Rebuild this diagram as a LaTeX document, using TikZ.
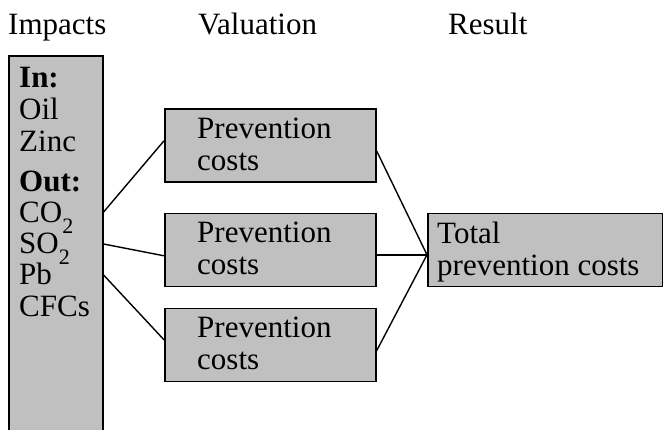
\documentclass[tikz,border=0pt]{standalone}
\usepackage{fontspec}
\setmainfont{Liberation Serif}
\usetikzlibrary{calc}
\definecolor{boxgray}{HTML}{C0C0C0}
\newcommand{\lowtwo}{\raisebox{-11pt}{\fontsize{22}{22}\selectfont 2}}
\tikzset{
  box/.style={draw=black, line width=1.6pt, fill=boxgray, rectangle, inner sep=0pt, anchor=north west},
  txt/.style={anchor=base west, inner sep=0pt, font=\fontsize{31}{31}\selectfont},
  link/.style={draw=black, line width=1.4pt}
}
\begin{document}
\begin{tikzpicture}[x=1pt,y=-1pt]
\useasboundingbox (0,0) rectangle (663,429);
\clip (0,0) rectangle (663,429);
% headers
\node[txt] (h1) at (8,34) {Impacts};
\node[txt] (h2) at (198,34) {Valuation};
\node[txt] (h3) at (448,34) {Result};
% boxes
\node[box, minimum width=94pt, minimum height=420pt] (L) at (8,55) {};
\node[box, minimum width=211pt, minimum height=73pt] (b1) at (164,108) {};
\node[box, minimum width=211pt, minimum height=73pt] (b2) at (164,212.5) {};
\node[box, minimum width=211pt, minimum height=73pt] (b3) at (164,307.5) {};
\node[box, minimum width=234.5pt, minimum height=73pt] (T) at (427,212.5) {};
% left box text
\node[txt] (l1) at (19,87) {\bfseries In:};
\node[txt] (l2) at (19,119) {Oil};
\node[txt] (l3) at (19,151) {Zinc};
\node[txt] (l4) at (19,191) {\bfseries Out:};
\node[txt] (l5) at (19,222) {CO\lowtwo};
\node[txt] (l6) at (19,253) {SO\lowtwo};
\node[txt] (l7) at (19,284) {Pb};
\node[txt] (l8) at (19,316) {CFCs};
% prevention boxes text
\node[txt] (p1a) at (197,138.5) {Prevention};
\node[txt] (p1b) at (197,170.5) {costs};
\node[txt] (p2a) at (197,242.5) {Prevention};
\node[txt] (p2b) at (197,274.5) {costs};
\node[txt] (p3a) at (197,337.5) {Prevention};
\node[txt] (p3b) at (197,369.5) {costs};
% total text
\node[txt] (t1) at (437,243) {Total};
\node[txt] (t2) at (437,275) {prevention costs};
% connector points on the left box
\coordinate (La) at ($(L.north east)+(0,157)$);
\coordinate (Lb) at ($(L.north east)+(0,189)$);
\coordinate (Lc) at ($(L.north east)+(0,220)$);
% connectors
\draw[link] (La) -- ($(b1.west)+(0,-4.5)$);
\draw[link] (Lb) -- ($(b2.west)+(0,6)$);
\draw[link] (Lc) -- ($(b3.west)+(0,-5)$);
\draw[link] ($(b1.east)+(0,5.5)$) -- ($(T.west)+(0,5)$);
\draw[link] ($(b2.east)+(0,5)$) -- ($(T.west)+(0,5)$);
\draw[link] ($(b3.east)+(0,6)$) -- ($(T.west)+(0,5)$);
\end{tikzpicture}
\end{document}
